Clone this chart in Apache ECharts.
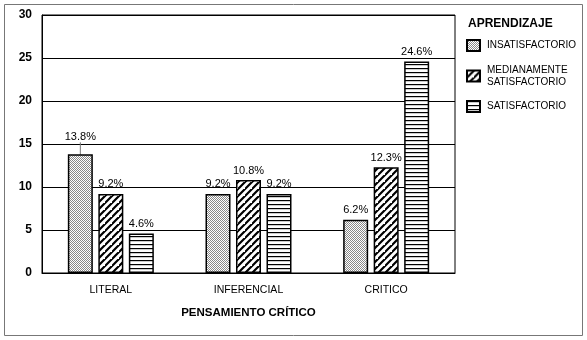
<!DOCTYPE html>
<html>
<head>
<meta charset="utf-8">
<script src="https://cdn.jsdelivr.net/npm/echarts@6/dist/echarts.min.js"></script>
<style>
  html, body { margin: 0; padding: 0; background: #fff; }
  #chart { width: 587px; height: 340px; }
</style>
</head>
<body>
<div id="chart"></div>
<script>
// data
const categories = ['LITERAL', 'INFERENCIAL', 'CRITICO'];
const seriesNames = ['INSATISFACTORIO', 'MEDIANAMENTE SATISFACTORIO', 'SATISFACTORIO'];
const insatisfactorio = [13.8, 9.2, 6.2];
const medianamente = [9.2, 10.8, 12.3];
const satisfactorio = [4.6, 9.2, 24.6];
const yTicks = [0, 5, 10, 15, 20, 25, 30];

const font = '"Liberation Sans", Arial, sans-serif';

// fill patterns
function makeDots() {
    let c = document.createElement('canvas');
    c.width = 2; c.height = 2;
    let ctx = c.getContext('2d');
    ctx.fillStyle = '#fff';
    ctx.fillRect(0, 0, 2, 2);
    ctx.fillStyle = '#888';
    ctx.fillRect(0, 0, 1, 1);
    ctx.fillRect(1, 1, 1, 1);
    return c;
}
function makeDiag() {
    let s = 7;
    let c = document.createElement('canvas');
    c.width = s; c.height = s;
    let ctx = c.getContext('2d');
    ctx.fillStyle = '#fff';
    ctx.fillRect(0, 0, s, s);
    ctx.strokeStyle = '#000';
    ctx.lineWidth = 2.2;
    ctx.beginPath();
    ctx.moveTo(-1, s + 1); ctx.lineTo(s + 1, -1);
    ctx.moveTo(-1 - s, s + 1); ctx.lineTo(1, -1);
    ctx.moveTo(s - 1, 2 * s + 1); ctx.lineTo(2 * s + 1, s - 1);
    ctx.stroke();
    return c;
}
function makeHori() {
    let c = document.createElement('canvas');
    c.width = 4; c.height = 4;
    let ctx = c.getContext('2d');
    ctx.fillStyle = '#fff';
    ctx.fillRect(0, 0, 4, 4);
    ctx.fillStyle = '#000';
    ctx.fillRect(0, 0, 4, 1.2);
    return c;
}

const patterns = [makeDots(), makeDiag(), makeHori()];
const values = [insatisfactorio, medianamente, satisfactorio];

let myChart = echarts.init(document.getElementById('chart'));

myChart.setOption({
    animation: false,
    title: {
        text: 'APRENDIZAJE',
        left: 463,
        top: 13,
        textStyle: { color: '#000', fontSize: 12, fontWeight: 'bold', fontFamily: font }
    },
    legend: {
        orient: 'vertical',
        left: 461,
        top: 34,
        icon: 'rect',
        itemWidth: 13,
        itemHeight: 11,
        itemGap: 9,
        data: [
            seriesNames[0],
            { name: seriesNames[1], textStyle: { padding: [6, 0, 0, 2] } },
            seriesNames[2]
        ],
        formatter: function (name) {
            return name.replace('MEDIANAMENTE ', 'MEDIANAMENTE\n');
        },
        textStyle: { color: '#000', fontSize: 10, fontFamily: font, lineHeight: 12, padding: [0, 0, 0, 2] }
    },
    graphic: [{
        type: 'rect',
        shape: { x: 4.5, y: 4.5, width: 578, height: 331 },
        style: { fill: 'none', stroke: '#777', lineWidth: 1 },
        silent: true
    }],
    grid: {
        left: 42,
        top: 15,
        right: 132,
        bottom: 67,
        show: true,
        borderColor: '#000',
        borderWidth: 1
    },
    xAxis: {
        type: 'category',
        data: categories,
        name: 'PENSAMIENTO CRÍTICO',
        nameLocation: 'middle',
        nameGap: 34,
        nameTextStyle: { color: '#000', fontSize: 11.5, fontWeight: 'bold', fontFamily: font },
        axisTick: { show: false },
        axisLine: { lineStyle: { color: '#000', width: 1 } },
        axisLabel: { color: '#000', fontSize: 10.5, margin: 12, fontFamily: font }
    },
    yAxis: {
        type: 'value',
        min: yTicks[0],
        max: yTicks[yTicks.length - 1],
        interval: 5,
        axisLine: { show: true, lineStyle: { color: '#000', width: 1 } },
        axisTick: { show: false },
        splitLine: { lineStyle: { color: '#000', width: 1 } },
        axisLabel: { color: '#000', fontSize: 12, fontWeight: 'bold', margin: 10, fontFamily: font }
    },
    series: seriesNames.map(function (name, i) {
        return {
            name: name,
            type: 'bar',
            data: values[i].map(function (v, j) {
                if (i === 0 && j === 0) {
                    return { value: v, labelLine: { show: true, lineStyle: { color: '#777', width: 1 } } };
                }
                return v;
            }),
            barWidth: 25,
            barGap: '22%',
            itemStyle: {
                color: { image: patterns[i], repeat: 'repeat' },
                borderColor: '#000',
                borderWidth: 1.5
            },
            label: {
                show: true,
                position: 'top',
                distance: 4,
                color: '#000',
                fontSize: 11,
                fontFamily: font,
                formatter: '{c}%'
            },
            labelLayout: function (params) {
                if (i === 0 && params.dataIndex === 0) {
                    return { dy: -8 };
                }
                return {};
            }
        };
    })
});
</script>
</body>
</html>
